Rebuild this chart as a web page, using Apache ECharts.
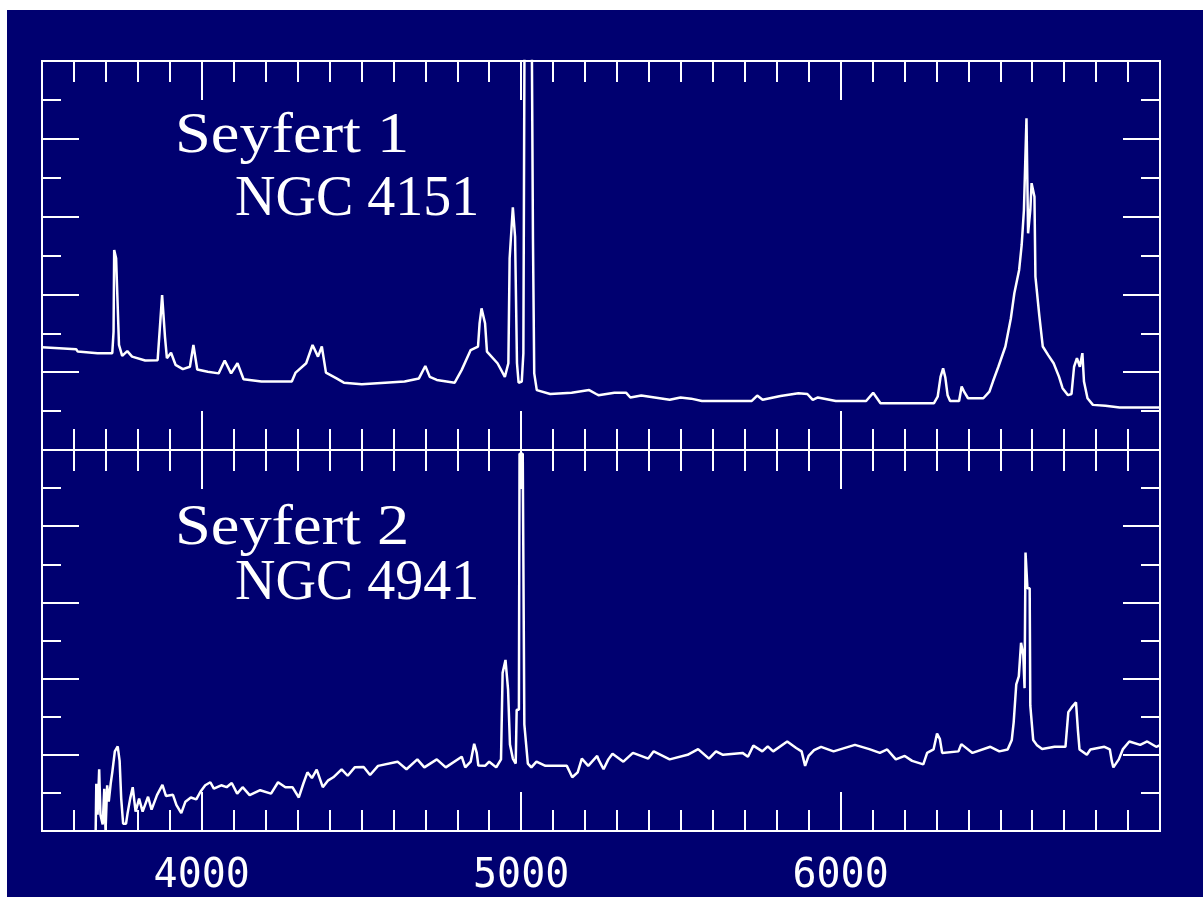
<!DOCTYPE html>
<html>
<head>
<meta charset="utf-8">
<script src="https://cdn.jsdelivr.net/npm/echarts@6/dist/echarts.min.js"></script>
<style>
html,body{margin:0;padding:0;background:#ffffff;width:1203px;height:898px;overflow:hidden;}
#c{position:absolute;left:7px;top:10px;width:1196px;height:887px;}
</style>
</head>
<body>
<div id="c"></div>
<script>
// ---- data (wavelength in Angstrom, relative flux in axis units 0..10) ----
var xMin = 3500, xMax = 7000;
var xMajorTicks = [4000, 5000, 6000];
var xTickLabels = ['4000', '5000', '6000'];
var panelTitles = ['Seyfert 1', 'Seyfert 2'];
var galaxyNames = ['NGC 4151', 'NGC 4941'];

var seyfert1 = [
  [3500,2.64],[3607,2.59],[3612,2.53],[3674,2.49],[3720,2.49],[3724,3.04],[3726,5.14],[3731,5.14],[3732,4.93],[3738,4.93],
  [3741,2.70],[3751,2.42],[3767,2.54],[3782,2.40],[3823,2.30],[3862,2.31],[3870,3.26],[3876,3.98],[3880,3.98],[3885,2.91],
  [3891,2.36],[3904,2.50],[3918,2.19],[3941,2.08],[3963,2.14],[3974,2.70],[3978,2.70],[3986,2.07],[4019,2.01],[4053,1.97],
  [4072,2.30],[4076,2.30],[4092,1.97],[4112,2.23],[4116,2.23],[4131,1.82],[4187,1.76],[4282,1.76],[4294,1.99],[4327,2.23],
  [4347,2.70],[4352,2.70],[4364,2.40],[4376,2.66],[4381,2.66],[4389,1.99],[4422,1.84],[4445,1.73],[4501,1.69],[4635,1.76],
  [4680,1.84],[4700,2.16],[4704,2.16],[4714,1.88],[4736,1.80],[4792,1.73],[4814,2.06],[4842,2.57],[4865,2.66],[4870,3.26],
  [4876,3.64],[4880,3.64],[4887,3.26],[4893,2.53],[4926,2.23],[4949,1.88],[4960,2.23],[4964,4.93],[4974,6.24],[4978,6.24],
  [4981,5.48],[4987,2.23],[4992,1.73],[5002,1.76],[5007,2.49],[5012,14.0],[5031,14.0],[5037,5.42],[5041,1.97],[5049,1.54],
  [5091,1.44],[5158,1.47],[5213,1.54],[5235,1.44],[5242,1.41],[5292,1.47],[5329,1.47],[5342,1.35],[5376,1.40],[5465,1.29],
  [5499,1.35],[5532,1.32],[5566,1.26],[5722,1.26],[5739,1.40],[5756,1.29],[5812,1.39],[5868,1.46],[5896,1.44],[5913,1.29],
  [5929,1.35],[5985,1.26],[6080,1.26],[6102,1.47],[6125,1.20],[6292,1.20],[6304,1.37],[6313,1.88],[6321,2.10],[6328,1.86],
  [6335,1.41],[6343,1.26],[6371,1.26],[6379,1.63],[6388,1.48],[6399,1.33],[6447,1.33],[6466,1.50],[6477,1.76],[6494,2.14],
  [6516,2.66],[6533,3.38],[6544,4.03],[6559,4.63],[6567,5.27],[6574,6.17],[6580,6.17],[6582,8.53],[6584,8.53],[6587,5.57],
  [6591,5.57],[6594,6.17],[6598,6.86],[6602,6.86],[6607,6.51],[6610,4.46],[6622,3.47],[6633,2.66],[6650,2.44],[6667,2.23],
  [6684,1.88],[6695,1.59],[6712,1.41],[6723,1.44],[6731,2.14],[6740,2.36],[6749,2.14],[6757,2.49],[6762,1.76],[6773,1.33],
  [6790,1.16],[6829,1.14],[6874,1.09],[6992,1.09],[7000,1.09]
];

var seyfert2 = [
  [3668,0.00],[3670,1.24],[3674,0.43],[3679,1.62],[3683,0.43],[3690,0.17],[3695,1.11],[3699,0.00],[3704,1.20],[3709,0.77],
  [3715,1.24],[3720,1.54],[3728,2.09],[3737,2.22],[3743,1.84],[3748,0.85],[3754,0.19],[3763,0.19],[3768,0.47],[3776,0.85],
  [3784,1.15],[3793,0.51],[3804,0.85],[3815,0.51],[3832,0.90],[3843,0.56],[3860,0.94],[3877,1.21],[3888,0.92],[3910,0.95],
  [3921,0.68],[3936,0.47],[3949,0.77],[3966,0.88],[3983,0.83],[3996,1.03],[4011,1.20],[4027,1.28],[4038,1.11],[4061,1.20],
  [4078,1.15],[4094,1.26],[4111,0.98],[4128,1.15],[4150,0.94],[4183,1.07],[4217,0.98],[4239,1.28],[4262,1.15],[4284,1.15],
  [4304,0.88],[4318,1.24],[4331,1.54],[4345,1.39],[4360,1.61],[4379,1.15],[4396,1.33],[4412,1.41],[4438,1.62],[4457,1.45],
  [4479,1.67],[4507,1.68],[4527,1.47],[4552,1.71],[4613,1.82],[4641,1.62],[4675,1.88],[4697,1.67],[4736,1.88],[4764,1.67],
  [4814,1.95],[4825,1.67],[4842,1.82],[4853,2.29],[4861,2.05],[4866,1.72],[4887,1.71],[4900,1.82],[4922,1.67],[4937,1.88],
  [4942,4.15],[4951,4.49],[4959,3.72],[4965,2.27],[4974,1.90],[4983,1.77],[4986,3.18],[4993,3.18],[4995,9.90],[5005,9.90],
  [5010,2.80],[5021,1.77],[5032,1.67],[5048,1.82],[5076,1.71],[5143,1.71],[5160,1.41],[5177,1.54],[5190,1.90],[5210,1.71],
  [5238,1.97],[5242,1.88],[5258,1.62],[5273,1.88],[5286,2.03],[5320,1.82],[5350,2.05],[5398,1.90],[5415,2.09],[5465,1.88],
  [5521,2.00],[5554,2.15],[5588,1.90],[5610,2.09],[5632,2.00],[5693,2.05],[5710,1.95],[5727,2.24],[5755,2.09],[5772,2.22],
  [5789,2.09],[5833,2.35],[5861,2.18],[5878,2.09],[5889,1.71],[5900,1.97],[5917,2.12],[5939,2.21],[5978,2.09],[6045,2.26],
  [6090,2.15],[6123,2.05],[6146,2.14],[6173,1.88],[6201,1.97],[6224,1.84],[6259,1.75],[6271,2.05],[6291,2.14],[6302,2.56],
  [6311,2.41],[6318,2.05],[6369,2.09],[6378,2.28],[6413,2.05],[6469,2.21],[6497,2.09],[6523,2.14],[6536,2.39],[6542,2.86],
  [6550,3.85],[6558,4.06],[6565,4.94],[6572,4.62],[6576,3.75],[6579,7.31],[6582,7.31],[6585,6.37],[6592,6.37],[6594,3.29],
  [6603,2.39],[6614,2.26],[6631,2.15],[6670,2.21],[6704,2.21],[6713,3.12],[6724,3.25],[6737,3.38],[6743,2.65],[6748,2.14],
  [6771,2.00],[6782,2.14],[6826,2.21],[6843,2.14],[6849,1.84],[6854,1.67],[6871,1.88],[6884,2.15],[6904,2.35],[6938,2.26],
  [6960,2.35],[6988,2.21],[7000,2.25]
];

// ---- styling / layout ----
var FG = '#ffffff';
var BG = '#000070';
var LINE_W = 2;

function xAxisPair(grid, pos, withLabels) {
  var base = {
    type: 'value', gridIndex: grid, position: pos, min: xMin, max: xMax,
    axisLine: { show: true, onZero: false, lineStyle: { color: FG, width: LINE_W } },
    splitLine: { show: false }
  };
  var minor = Object.assign({}, base, {
    interval: 100,
    axisTick: { show: true, inside: true, length: 21, lineStyle: { color: FG, width: LINE_W } },
    axisLabel: { show: false }
  });
  var major = Object.assign({}, base, {
    interval: 500,
    axisTick: { show: true, inside: true, length: 39, customValues: xMajorTicks, lineStyle: { color: FG, width: LINE_W } },
    axisLabel: withLabels ? {
      show: true, customValues: xMajorTicks, margin: 26, color: FG,
      fontFamily: '"DejaVu Sans Mono", monospace', fontSize: 40,
      formatter: function (v) { var i = xMajorTicks.indexOf(v); return i >= 0 ? xTickLabels[i] : ''; }
    } : { show: false }
  });
  return [minor, major];
}

function yAxisPair(grid, pos) {
  var base = {
    type: 'value', gridIndex: grid, position: pos, min: 0, max: 10,
    axisLine: { show: true, onZero: false, lineStyle: { color: FG, width: LINE_W } },
    splitLine: { show: false }, axisLabel: { show: false }
  };
  var minor = Object.assign({}, base, {
    interval: 1,
    axisTick: { show: true, inside: true, length: 19, lineStyle: { color: FG, width: LINE_W } }
  });
  var major = Object.assign({}, base, {
    interval: 2,
    axisTick: { show: true, inside: true, length: 37, lineStyle: { color: FG, width: LINE_W } }
  });
  return [minor, major];
}

var xAxes = [].concat(
  xAxisPair(0, 'top', false), xAxisPair(0, 'bottom', false),
  xAxisPair(1, 'top', false), xAxisPair(1, 'bottom', true)
);
var yAxes = [].concat(
  yAxisPair(0, 'left'), yAxisPair(0, 'right'),
  yAxisPair(1, 'left'), yAxisPair(1, 'right')
);

function spectrum(data, xi, yi) {
  return {
    type: 'line', data: data, xAxisIndex: xi, yAxisIndex: yi,
    showSymbol: false, symbol: 'none', clip: true, silent: true,
    lineStyle: { color: FG, width: 2.5 }, z: 5
  };
}

function label(txt, x, y, sx) {
  return {
    type: 'text', x: x - 7, y: y - 10, scaleX: sx || 1, silent: true, z: 10,
    style: { text: txt, fill: FG, font: '56px "Liberation Serif", serif', align: 'left', verticalAlign: 'middle' }
  };
}

var chart = echarts.init(document.getElementById('c'), null, { renderer: 'canvas' });
chart.setOption({
  backgroundColor: BG,
  animation: false,
  grid: [
    { left: 35, top: 51, width: 1118, height: 389, containLabel: false },
    { left: 35, top: 440, width: 1118, height: 390, containLabel: false }
  ],
  xAxis: xAxes,
  yAxis: yAxes,
  series: [
    spectrum(seyfert1, 0, 0),
    spectrum(seyfert2, 4, 4)
  ],
  graphic: [
    label(panelTitles[0], 175, 137, 1.15),
    label(galaxyNames[0], 235, 200),
    label(panelTitles[1], 175, 529, 1.15),
    label(galaxyNames[1], 235, 584)
  ]
});
</script>
</body>
</html>
